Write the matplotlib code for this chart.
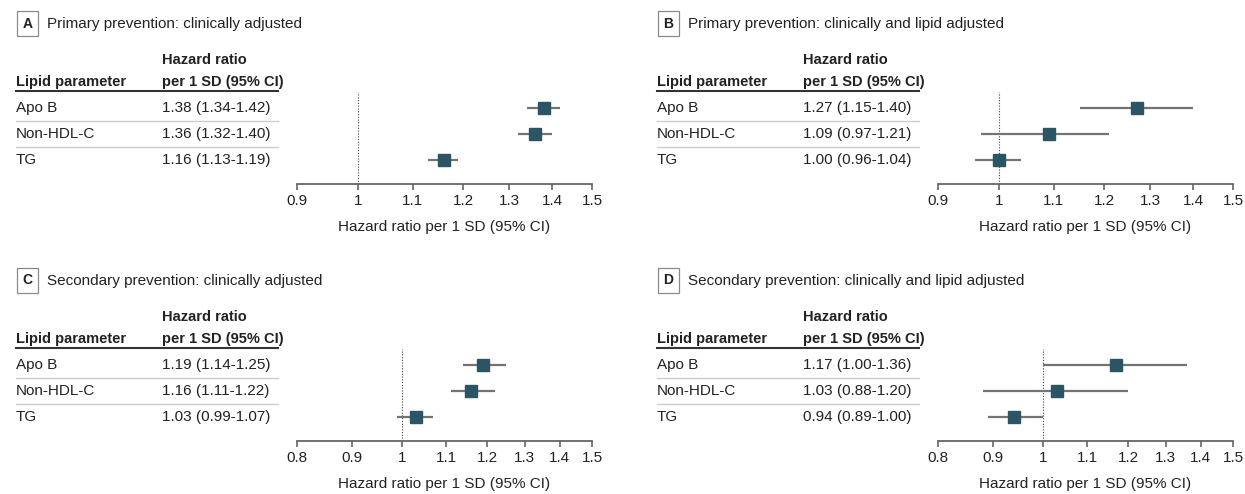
import matplotlib
matplotlib.use("Agg")
import matplotlib.pyplot as plt
from matplotlib.transforms import blended_transform_factory
from matplotlib.ticker import NullLocator

plt.rcParams['font.family'] = ['Liberation Sans', 'DejaVu Sans']

# data
params = ["Apo B", "Non-HDL-C", "TG"]

titles = ["Primary prevention: clinically adjusted",
          "Primary prevention: clinically and lipid adjusted",
          "Secondary prevention: clinically adjusted",
          "Secondary prevention: clinically and lipid adjusted"]
letters = ["A", "B", "C", "D"]

hr_a = [1.38, 1.36, 1.16]
lo_a = [1.34, 1.32, 1.13]
hi_a = [1.42, 1.40, 1.19]

hr_b = [1.27, 1.09, 1.00]
lo_b = [1.15, 0.97, 0.96]
hi_b = [1.40, 1.21, 1.04]

hr_c = [1.19, 1.16, 1.03]
lo_c = [1.14, 1.11, 0.99]
hi_c = [1.25, 1.22, 1.07]

hr_d = [1.17, 1.03, 0.94]
lo_d = [1.00, 0.88, 0.89]
hi_d = [1.36, 1.20, 1.00]

ticks_prim = [0.9, 1, 1.1, 1.2, 1.3, 1.4, 1.5]
ticks_sec = [0.8, 0.9, 1, 1.1, 1.2, 1.3, 1.4, 1.5]

W, H = 1245, 494
fig = plt.figure(figsize=(W / 100, H / 100), dpi=100)

txt_col = '#222222'
sq_col = '#2b5565'
ci_col = '#737373'
fs = 11
fs_head = 10.5

panels = [(0, 0, hr_a, lo_a, hi_a, ticks_prim),
          (641, 0, hr_b, lo_b, hi_b, ticks_prim),
          (0, 257, hr_c, lo_c, hi_c, ticks_sec),
          (641, 257, hr_d, lo_d, hi_d, ticks_sec)]

for k, (dx, dy, hr, lo, hi, ticks) in enumerate(panels):
    ax = fig.add_axes([(297 + dx) / W, 1 - (184 + dy) / H, 295 / W, 92 / H])
    ax.set_xscale('log')
    ax.set_xlim(ticks[0], ticks[-1])
    ax.set_xticks(ticks)
    ax.set_xticklabels([f"{t:g}" for t in ticks])
    ax.xaxis.set_minor_locator(NullLocator())
    ax.set_ylim(2.92, -0.62)
    ax.set_yticks([])
    for s in ['top', 'left', 'right']:
        ax.spines[s].set_visible(False)
    ax.spines['bottom'].set_color('#666666')
    ax.spines['bottom'].set_linewidth(1.3)
    ax.tick_params(axis='x', direction='out', length=4, width=1.2, color='#666666',
                   pad=3, labelsize=fs, labelcolor=txt_col)
    ax.set_xlabel("Hazard ratio per 1 SD (95% CI)", fontsize=fs, color=txt_col, labelpad=9)
    ax.patch.set_alpha(0)

    rows = list(range(len(params)))
    ax.axvline(1, color='#444444', lw=0.8, ls=(0, (1, 1.5)))
    ax.hlines(rows, lo, hi, color=ci_col, lw=1.6)
    ax.plot(hr, rows, 's', ms=8, color=sq_col, mec=sq_col)

    # table on the left
    tr = blended_transform_factory(fig.transFigure, ax.transData)
    x_lab = (16 + dx) / W
    x_hr = (162 + dx) / W
    x_end = (278 + dx) / W
    ax.text(x_hr, -1.85, "Hazard ratio", transform=tr, va='center', fontsize=fs_head,
            fontweight='bold', color=txt_col)
    ax.text(x_hr, -1.0, "per 1 SD (95% CI)", transform=tr, va='center', fontsize=fs_head,
            fontweight='bold', color=txt_col)
    ax.text(x_lab, -1.0, "Lipid parameter", transform=tr, va='center', fontsize=fs_head,
            fontweight='bold', color=txt_col)
    ax.plot([x_lab, x_end], [-0.64, -0.64], transform=tr, color='#333333', lw=1.5,
            clip_on=False)
    for i, p in enumerate(params):
        ax.text(x_lab, i, p, transform=tr, va='center', fontsize=fs, color=txt_col)
        ax.text(x_hr, i, f"{hr[i]:.2f} ({lo[i]:.2f}-{hi[i]:.2f})", transform=tr,
                va='center', fontsize=fs, color=txt_col)
        if i < len(params) - 1:
            ax.plot([x_lab, x_end], [i + 0.5, i + 0.5], transform=tr, color='#cccccc',
                    lw=1, clip_on=False)

    # panel letter and title
    fig.text((27.5 + dx) / W, 1 - (23.5 + dy) / H, letters[k], ha='center', va='center',
             fontsize=10, fontweight='bold', color=txt_col,
             bbox=dict(boxstyle='square,pad=0.4', fc='white', ec='#8a8a8a', lw=0.9))
    fig.text((47 + dx) / W, 1 - (24 + dy) / H, titles[k], ha='left', va='center',
             fontsize=fs, color=txt_col)

fig.savefig("out.png", dpi=100)
